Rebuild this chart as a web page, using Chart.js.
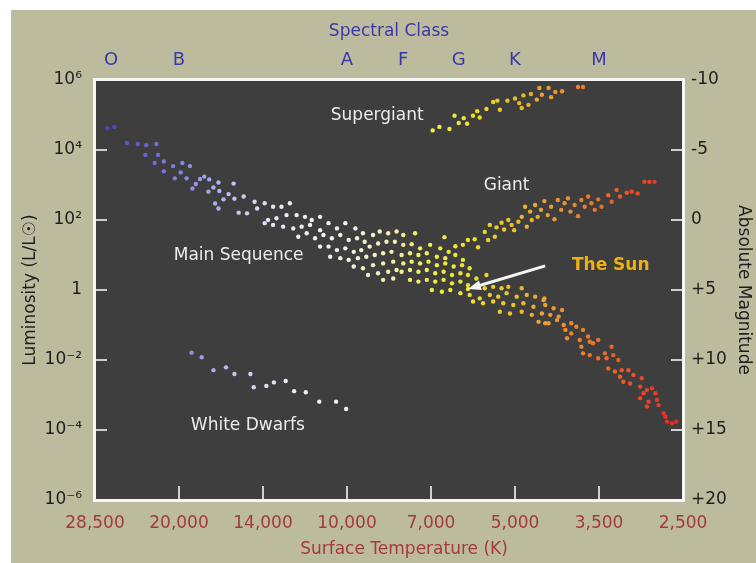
<!DOCTYPE html>
<html>
<head>
<meta charset="utf-8">
<title>Hertzsprung-Russell Diagram</title>
<script src="https://cdn.jsdelivr.net/npm/chart.js@4.4.1/dist/chart.umd.min.js"></script>
<style>
  html, body { margin: 0; padding: 0; background: #ffffff; }
  #hrWrap { position: absolute; left: 11px; top: 10px; width: 745px; height: 553px; background: #bdbb9e; }
  #hrChart { display: block; }
</style>
</head>
<body>
<div id="hrWrap"><canvas id="hrChart" width="745" height="553" style="width:745px;height:553px"></canvas></div>
<script>
// x = position along the temperature axis (0 = 28,500 K ... 7 = 2,500 K), y = log10(L / Lsun)
const tempLabels = ['28,500', '20,000', '14,000', '10,000', '7,000', '5,000', '3,500', '2,500'];
const tempTicks = [0, 1, 2, 3, 4, 5, 6, 7];
const spectralClasses = ['O', 'B', 'A', 'F', 'G', 'K', 'M'];
const spectralPos = [0.19, 1.0, 3.0, 3.67, 4.33, 5.0, 6.0];
const lumTicks = [6, 4, 2, 0, -2, -4, -6];
const lumLabels = ['10⁶', '10⁴', '10²', '1', '10⁻²', '10⁻⁴', '10⁻⁶'];
const magTicks = [-10, -5, 0, 5, 10, 15, 20];
const magLabels = ['-10', '-5', '0', '+5', '+10', '+15', '+20'];

const mainSequence = [
  [0.15,4.62],[0.23,4.66],[0.38,4.20],[0.51,4.17],[0.61,4.14],[0.73,4.17],[0.60,3.86],[0.75,3.86],
  [0.71,3.63],[0.82,3.67],[0.93,3.54],[1.04,3.63],[1.13,3.54],[0.82,3.39],[1.02,3.36],[0.95,3.19],
  [1.09,3.19],[1.16,2.90],[1.20,3.03],[1.25,3.17],[1.30,3.24],[1.36,3.16],[1.35,2.81],[1.41,2.93],
  [1.48,2.83],[1.47,3.07],[1.65,3.04],[1.59,2.74],[1.43,2.47],[1.53,2.59],[1.66,2.61],[1.47,2.33],
  [1.71,2.21],
  [1.77,2.67],[1.90,2.52],[2.02,2.48],[2.12,2.38],[2.22,2.38],[2.32,2.48],[1.81,2.19],[1.93,2.33],
  [2.06,2.00],[2.16,2.05],[2.28,2.14],[2.40,2.14],[2.50,2.09],[2.58,2.00],[2.68,2.09],[2.02,1.91],
  [2.12,1.86],[2.24,1.81],[2.36,1.76],[2.46,1.81],[2.56,1.86],[2.68,1.71],[2.78,1.91],[2.88,1.76],
  [2.98,1.91],[3.10,1.76],[3.19,1.62],[2.42,1.52],[2.52,1.62],[2.62,1.48],[2.72,1.57],[2.82,1.48],
  [2.92,1.57],[3.02,1.43],[3.12,1.48],[3.21,1.38],[3.31,1.57],[3.39,1.67],[3.49,1.62],[3.59,1.67],
  [2.68,1.24],[2.78,1.24],[2.88,1.14],[2.98,1.19],[3.08,1.09],[3.17,1.14],[3.27,1.24],[3.37,1.33],
  [3.47,1.38],[3.57,1.38],[2.80,0.95],[2.92,0.91],[3.02,0.86],[3.13,0.91],[3.23,0.95],[3.33,1.00],
  [3.43,1.05],[3.53,1.09],[3.08,0.67],[3.19,0.62],[3.31,0.71],[3.43,0.76],[3.55,0.81],[3.25,0.43],
  [3.37,0.48],[3.49,0.52],[3.59,0.57],[3.43,0.29],[3.55,0.33],
  [3.67,1.57],[3.81,1.62],[3.67,1.29],[3.77,1.31],[3.87,1.19],[3.99,1.29],[4.11,1.19],[4.21,1.09],
  [3.65,1.00],[3.75,1.05],[3.85,1.00],[3.95,1.05],[4.07,0.95],[4.17,0.91],[4.29,1.00],[4.38,0.86],
  [3.67,0.76],[3.77,0.81],[3.87,0.76],[3.97,0.81],[4.07,0.71],[4.17,0.76],[4.27,0.67],[4.37,0.71],
  [4.46,0.62],[3.65,0.52],[3.75,0.57],[3.85,0.52],[3.95,0.57],[4.05,0.48],[4.15,0.52],[4.25,0.43],
  [4.35,0.48],[4.44,0.43],[4.54,0.33],[4.66,0.43],[3.75,0.29],[3.85,0.24],[3.95,0.29],[4.05,0.24],
  [4.15,0.29],[4.25,0.19],[4.35,0.24],[4.44,0.14],[4.54,0.09],[4.64,0.05],[4.74,0.09],[4.84,0.05],
  [4.92,0.09],[5.08,0.05],[4.01,0.00],[4.13,-0.05],[4.23,0.00],[4.35,-0.09],[4.46,-0.14],[4.58,-0.24],
  [4.70,-0.14],[4.80,-0.19],[4.90,-0.09],[5.02,-0.19],[5.14,-0.14],[5.24,-0.19],[5.34,-0.29],[4.50,-0.33],
  [4.62,-0.38],[4.74,-0.33],[4.86,-0.38],[4.98,-0.43],[5.10,-0.38],[5.22,-0.48],[5.36,-0.43],[4.82,-0.62],
  [4.94,-0.67],[5.08,-0.62],[5.20,-0.71],[5.32,-0.67],[5.28,-0.91],[5.40,-0.95],[5.50,-0.86],
  [5.35,-0.24],[5.46,-0.52],[5.56,-0.57],[5.42,-0.71],[5.52,-0.76],[5.36,-0.95],[5.58,-1.00],[5.67,-0.95],
  [5.73,-1.05],[5.60,-1.14],[5.67,-1.24],[5.81,-1.14],[5.87,-1.33],[5.62,-1.38],[5.77,-1.43],[5.89,-1.48],
  [5.99,-1.43],[5.79,-1.62],[5.93,-1.52],[5.81,-1.81],[5.89,-1.86],[5.99,-1.95],[6.07,-1.81],[6.09,-1.95],
  [6.17,-1.86],[6.15,-1.62],[6.23,-2.00],[6.11,-2.24],[6.19,-2.33],[6.27,-2.29],[6.35,-2.29],[6.25,-2.48],
  [6.41,-2.43],[6.51,-2.52],[6.29,-2.62],[6.37,-2.67],[6.49,-2.76],[6.57,-2.86],[6.67,-2.95],[6.49,-3.09],
  [6.59,-3.19],[6.69,-3.14],[6.53,-2.95],[6.63,-2.81],[6.57,-3.33],[6.71,-3.29],[6.77,-3.52],[6.81,-3.76],
  [6.87,-3.81],[6.92,-3.76],[6.79,-3.62]
];

const giants = [
  [4.16,1.51],[4.29,1.25],[4.38,1.29],[4.44,1.43],[4.52,1.45],[4.56,1.22],[4.64,1.66],[4.68,1.43],
  [4.70,1.86],[4.76,1.52],[4.78,1.79],[4.84,1.92],[4.87,1.73],[4.92,2.00],[4.96,1.86],[4.99,1.71],
  [5.04,1.95],[5.08,2.09],[5.12,2.38],[5.14,1.81],[5.18,2.24],[5.20,2.00],[5.24,2.43],[5.27,2.09],
  [5.31,2.29],[5.35,2.54],[5.39,2.14],[5.43,2.38],[5.47,2.02],[5.51,2.57],[5.55,2.29],[5.59,2.48],
  [5.63,2.62],[5.66,2.24],[5.71,2.43],[5.75,2.11],[5.79,2.57],[5.83,2.38],[5.87,2.67],[5.91,2.48],
  [5.95,2.29],[5.99,2.59],[6.03,2.38],[6.11,2.71],[6.15,2.52],[6.21,2.86],[6.25,2.67],[6.33,2.78],
  [6.39,2.81],[6.46,2.76],[6.54,3.09],[6.60,3.09],[6.66,3.09]
];

const supergiants = [
  [4.02,4.56],[4.10,4.66],[4.22,4.60],[4.28,4.98],[4.33,4.77],[4.39,4.91],[4.43,4.75],[4.50,4.98],
  [4.55,5.11],[4.58,4.93],[4.66,5.17],[4.74,5.37],[4.79,5.41],[4.82,5.15],[4.91,5.41],[5.00,5.47],
  [5.05,5.34],[5.08,5.20],[5.10,5.56],[5.16,5.29],[5.19,5.60],[5.26,5.44],[5.29,5.77],[5.32,5.58],
  [5.40,5.77],[5.43,5.51],[5.48,5.66],[5.56,5.68],[5.75,5.80],[5.81,5.80]
];

const whiteDwarfs = [
  [1.15,-1.79],[1.27,-1.92],[1.41,-2.29],[1.56,-2.21],[1.66,-2.40],[1.85,-2.40],[1.89,-2.78],[2.04,-2.74],
  [2.13,-2.64],[2.27,-2.60],[2.37,-2.89],[2.51,-2.92],[2.67,-3.19],[2.87,-3.19],[2.99,-3.40]
];

const theSun = [[4.44, 0.03]];

// star colour by temperature position
const colorStops = [
  [0.0, [62, 62, 190]], [0.6, [100, 100, 215]], [1.1, [140, 140, 228]], [1.7, [200, 200, 240]],
  [2.3, [238, 238, 242]], [3.0, [242, 242, 232]], [3.5, [240, 240, 175]], [4.0, [240, 240, 70]],
  [4.5, [236, 224, 40]], [5.0, [234, 190, 42]], [5.5, [234, 150, 50]], [6.0, [234, 112, 40]],
  [6.5, [234, 72, 40]], [7.0, [232, 34, 40]]
];

function starColor(x) {
  if (x <= colorStops[0][0]) return 'rgb(' + colorStops[0][1].join(',') + ')';
  for (let i = 1; i < colorStops.length; i++) {
    const [x1, c1] = colorStops[i];
    const [x0, c0] = colorStops[i - 1];
    if (x <= x1) {
      const t = (x - x0) / (x1 - x0);
      const c = c0.map((v, k) => Math.round(v + (c1[k] - v) * t));
      return 'rgb(' + c.join(',') + ')';
    }
  }
  return 'rgb(' + colorStops[colorStops.length - 1][1].join(',') + ')';
}

function toPoints(list) {
  return list.map(([x, y]) => ({ x: x, y: y }));
}

function starSet(label, list) {
  return {
    label: label,
    data: toPoints(list),
    backgroundColor: ctx => starColor(ctx.raw ? ctx.raw.x : 0),
    borderWidth: 0,
    pointRadius: 2.2,
    pointHoverRadius: 2.2
  };
}

const FONT = 'DejaVu Sans';

// region names, the Sun callout, plot frame and inner tick marks
const regionLabels = [
  { text: 'Supergiant', x: 3.36, y: 4.97 },
  { text: 'Giant', x: 4.90, y: 2.97 },
  { text: 'Main Sequence', x: 1.71, y: 0.97 },
  { text: 'White Dwarfs', x: 1.82, y: -3.86 }
];
const sunCallout = { text: 'The Sun', x: 6.14, y: 0.71, fromX: 5.36, fromY: 0.69 };

const hrDecor = {
  id: 'hrDecor',
  beforeDatasetsDraw(chart) {
    const { ctx, chartArea: a, scales } = chart;
    ctx.save();
    ctx.fillStyle = '#3e3e3e';
    ctx.fillRect(a.left, a.top, a.width, a.height);

    ctx.strokeStyle = '#cfcfcf';
    ctx.lineWidth = 2;
    ctx.beginPath();
    lumTicks.forEach(v => {
      const y = Math.round(scales.y.getPixelForValue(v));
      ctx.moveTo(a.left, y); ctx.lineTo(a.left + 12, y);
    });
    magTicks.forEach(v => {
      const y = Math.round(scales.yMag.getPixelForValue(v));
      ctx.moveTo(a.right - 12, y); ctx.lineTo(a.right, y);
    });
    tempTicks.slice(1, -1).forEach(v => {
      const x = Math.round(scales.x.getPixelForValue(v));
      ctx.moveTo(x, a.bottom); ctx.lineTo(x, a.bottom - 14);
    });
    ctx.stroke();
    ctx.restore();
  },
  afterDatasetsDraw(chart) {
    const { ctx, chartArea: a, scales } = chart;
    const px = v => scales.x.getPixelForValue(v);
    const py = v => scales.y.getPixelForValue(v);
    ctx.save();

    ctx.font = '17px "' + FONT + '"';
    ctx.fillStyle = '#ececec';
    ctx.textAlign = 'center';
    ctx.textBaseline = 'middle';
    regionLabels.forEach(l => ctx.fillText(l.text, px(l.x), py(l.y)));

    ctx.font = 'bold 17px "' + FONT + '"';
    ctx.fillStyle = '#f0b010';
    ctx.fillText(sunCallout.text, px(sunCallout.x), py(sunCallout.y));

    // arrow pointing at the Sun
    const x0 = px(sunCallout.fromX), y0 = py(sunCallout.fromY);
    const x1 = px(theSun[0][0]), y1 = py(theSun[0][1]);
    const ang = Math.atan2(y1 - y0, x1 - x0);
    const head = 13;
    ctx.strokeStyle = '#f4f4f4';
    ctx.fillStyle = '#f4f4f4';
    ctx.lineWidth = 3;
    ctx.beginPath();
    ctx.moveTo(x0, y0);
    ctx.lineTo(x1 - Math.cos(ang) * head * 0.8, y1 - Math.sin(ang) * head * 0.8);
    ctx.stroke();
    ctx.beginPath();
    ctx.moveTo(x1, y1);
    ctx.lineTo(x1 - head * Math.cos(ang) + 5 * Math.sin(ang), y1 - head * Math.sin(ang) - 5 * Math.cos(ang));
    ctx.lineTo(x1 - head * Math.cos(ang) - 5 * Math.sin(ang), y1 - head * Math.sin(ang) + 5 * Math.cos(ang));
    ctx.closePath();
    ctx.fill();

    // plot frame
    ctx.strokeStyle = '#f6f6f2';
    ctx.lineWidth = 3;
    ctx.strokeRect(a.left - 0.5, a.top - 0.5, a.width + 1, a.height + 1);

    // bottom axis caption
    ctx.font = '17px "' + FONT + '"';
    ctx.fillStyle = '#a8393b';
    ctx.fillText('Surface Temperature (K)', a.left + a.width / 2 + 15, a.bottom + 50);
    ctx.restore();
  }
};

const noGrid = { display: false, drawTicks: false, drawOnChartArea: false };

const ctx = document.getElementById('hrChart').getContext('2d');
const hrChart = new Chart(ctx, {
  type: 'scatter',
  data: {
    datasets: [
      starSet('Main Sequence', mainSequence),
      starSet('Giants', giants),
      starSet('Supergiants', supergiants),
      starSet('White Dwarfs', whiteDwarfs),
      starSet('The Sun', theSun)
    ]
  },
  options: {
    responsive: false,
    devicePixelRatio: 1,
    animation: false,
    layout: { padding: 0 },
    plugins: {
      legend: { display: false },
      tooltip: { enabled: false }
    },
    scales: {
      x: {
        type: 'linear',
        position: 'bottom',
        min: 0,
        max: 7,
        grid: noGrid,
        border: { display: false },
        afterBuildTicks: s => { s.ticks = tempTicks.map(v => ({ value: v })); },
        afterFit: s => { s.height = 63; },
        ticks: {
          autoSkip: false,
          maxRotation: 0,
          padding: 13,
          color: '#a33a3a',
          font: { family: FONT, size: 17 },
          callback: (v, i) => tempLabels[i]
        }
      },
      xTop: {
        type: 'linear',
        position: 'top',
        min: 0,
        max: 7,
        grid: noGrid,
        border: { display: false },
        afterBuildTicks: s => { s.ticks = spectralPos.map(v => ({ value: v })); },
        afterFit: s => { s.height = 70; },
        title: {
          display: true,
          text: 'Spectral Class',
          color: '#3838a8',
          font: { family: FONT, size: 17 },
          padding: { top: 11, bottom: 0 }
        },
        ticks: {
          autoSkip: false,
          maxRotation: 0,
          padding: 9,
          color: '#3838a8',
          font: { family: FONT, size: 18 },
          callback: (v, i) => spectralClasses[i]
        }
      },
      y: {
        type: 'linear',
        position: 'left',
        min: -6,
        max: 6,
        grid: noGrid,
        border: { display: false },
        afterBuildTicks: s => { s.ticks = lumTicks.map(v => ({ value: v })); },
        afterFit: s => { s.width = 84; },
        title: {
          display: true,
          text: 'Luminosity (L/L☉)',
          color: '#1e1e1e',
          font: { family: FONT, size: 17 },
          padding: { top: 9, bottom: 0 }
        },
        ticks: {
          autoSkip: false,
          padding: 13,
          color: '#1e1e1e',
          font: { family: FONT, size: 17 },
          callback: v => lumLabels[lumTicks.indexOf(v)]
        }
      },
      yMag: {
        type: 'linear',
        position: 'right',
        min: -10,
        max: 20,
        reverse: true,
        grid: noGrid,
        border: { display: false },
        afterBuildTicks: s => { s.ticks = magTicks.map(v => ({ value: v })); },
        afterFit: s => { s.width = 73; },
        title: {
          display: true,
          text: 'Absolute Magnitude',
          color: '#1e1e1e',
          font: { family: FONT, size: 17 },
          padding: { top: 2, bottom: 0 }
        },
        ticks: {
          autoSkip: false,
          padding: 8,
          color: '#1e1e1e',
          font: { family: FONT, size: 17 },
          callback: v => magLabels[magTicks.indexOf(v)]
        }
      }
    }
  },
  plugins: [hrDecor]
});
</script>
</body>
</html>
